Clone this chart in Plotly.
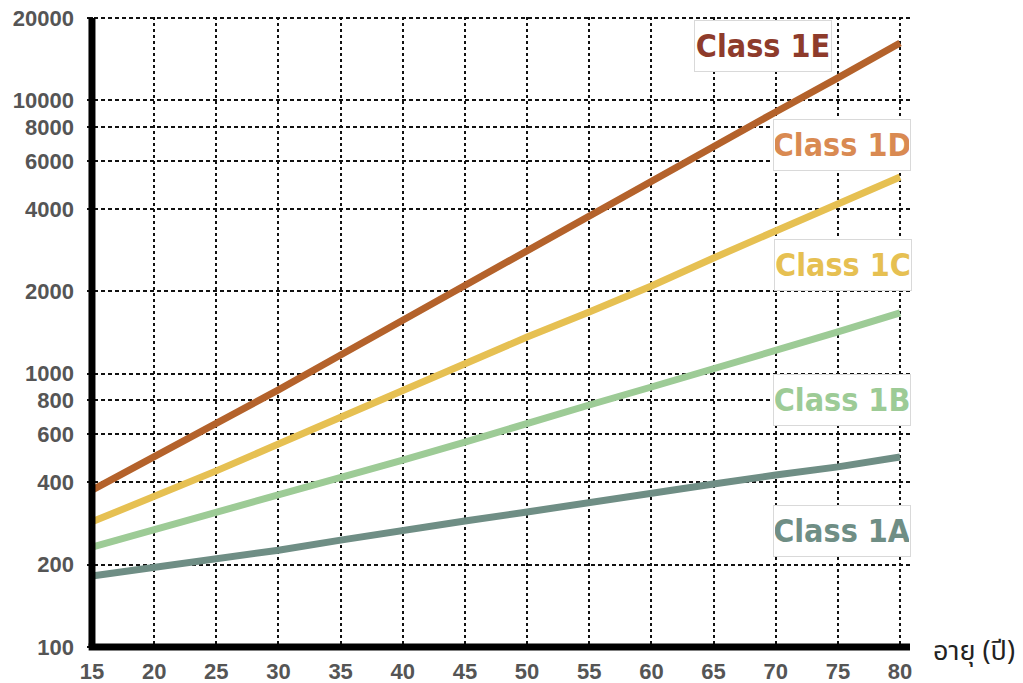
import plotly.graph_objects as go

# ---------------- data ----------------
ages = [15, 20, 25, 30, 35, 40, 45, 50, 55, 60, 65, 70, 75, 80]

line_dark_orange = [375, 496, 655, 872, 1171, 1572, 2094, 2812, 3776, 5070, 6750, 9070, 12080, 16220]
line_yellow = [287, 354, 441, 553, 694, 864, 1085, 1362, 1682, 2094, 2651, 3328, 4143, 5245]
line_green = [232, 268, 312, 363, 419, 483, 562, 660, 768, 894, 1040, 1211, 1421, 1668]
line_grey_green = [182, 195, 208, 226, 246, 268, 289, 312, 336, 366, 395, 426, 456, 496]

x_ticks = [15, 20, 25, 30, 35, 40, 45, 50, 55, 60, 65, 70, 75, 80]
y_ticks = [100, 200, 400, 600, 800, 1000, 2000, 4000, 6000, 8000, 10000, 20000]
y_tick_text = [str(v) for v in y_ticks]

class_labels = ["Class 1E", "Class 1D", "Class 1C", "Class 1B", "Class 1A"]
x_title = "อายุ (ปี)"

# ---------------- styling ----------------
W, H = 1023, 683
M_L, M_R, M_T, M_B = 87, 113, 17, 32
X_RANGE = [14.6, 80.8]
Y_RANGE = [1.9854, 4.305]

series = [
    ("dark orange", line_dark_orange, "#B4622B"),
    ("yellow", line_yellow, "#E6C052"),
    ("green", line_green, "#9DCB96"),
    ("grey green", line_grey_green, "#6F8E85"),
]

fig = go.Figure()
for name, vals, col in series:
    fig.add_trace(go.Scatter(
        x=ages, y=vals, mode="lines", name=name,
        line=dict(color=col, width=7),
        showlegend=False, hoverinfo="x+y",
    ))

tick_font = dict(family="Liberation Sans, Arial, sans-serif", size=22, color="#555555", weight="bold")

fig.update_layout(
    width=W, height=H,
    margin=dict(l=M_L, r=M_R, t=M_T, b=M_B, pad=0, autoexpand=False),
    paper_bgcolor="white", plot_bgcolor="white",
    xaxis=dict(
        range=X_RANGE, tickvals=x_ticks, ticktext=[str(v) for v in x_ticks],
        showgrid=True, gridcolor="#111111", gridwidth=2, griddash="3px,3px",
        zeroline=False, showline=False, ticks="", tickfont=tick_font,
        ticklabelstandoff=5, automargin=False,
    ),
    yaxis=dict(
        type="log", range=Y_RANGE, tickvals=y_ticks, ticktext=y_tick_text,
        showgrid=True, gridcolor="#111111", gridwidth=2, griddash="4px,3px",
        zeroline=False, showline=False, ticks="", tickfont=tick_font,
        ticklabelstandoff=12, automargin=False,
    ),
)

# thick black axis lines (drawn along x=15 and y=100)
fig.add_shape(type="line", xref="x", yref="y", x0=15, x1=15, y0=100, y1=20000,
              line=dict(color="black", width=7), layer="above")
fig.add_shape(type="line", xref="paper", yref="y", x0=0.002, x1=1.0, y0=100, y1=100,
              line=dict(color="black", width=7), layer="above")

# label boxes (pixel centres converted to paper coords)
pw = W - M_L - M_R
ph = H - M_T - M_B
def px_to_paper(px, py):
    return (px - M_L) / pw, 1 - (py - M_T) / ph

label_specs = [
    (class_labels[0], 763, 46, "#8E3B2B"),
    (class_labels[1], 842, 145, "#D98A52"),
    (class_labels[2], 843, 265, "#E6C052"),
    (class_labels[3], 842, 400, "#9DCB96"),
    (class_labels[4], 842, 531, "#6F8E85"),
]
for txt, cx, cy, col in label_specs:
    ax, ay = px_to_paper(cx, cy)
    fig.add_annotation(
        x=ax, y=ay, xref="paper", yref="paper", text=txt, showarrow=False,
        xanchor="center", yanchor="middle",
        font=dict(family="DejaVu Sans Condensed, sans-serif",
                  size=32, color=col, weight="bold"),
        bgcolor="white", bordercolor="#d9d9d9", borderwidth=1,
        width=134, height=48, borderpad=1,
    )

tx, ty = px_to_paper(974, 651)
fig.add_annotation(
    x=tx, y=ty, xref="paper", yref="paper", text=x_title, showarrow=False,
    xanchor="center", yanchor="middle",
    font=dict(family="Noto Sans Thai, Noto Sans, sans-serif", size=27, color="#222222"),
)

fig.write_html("out.html")
